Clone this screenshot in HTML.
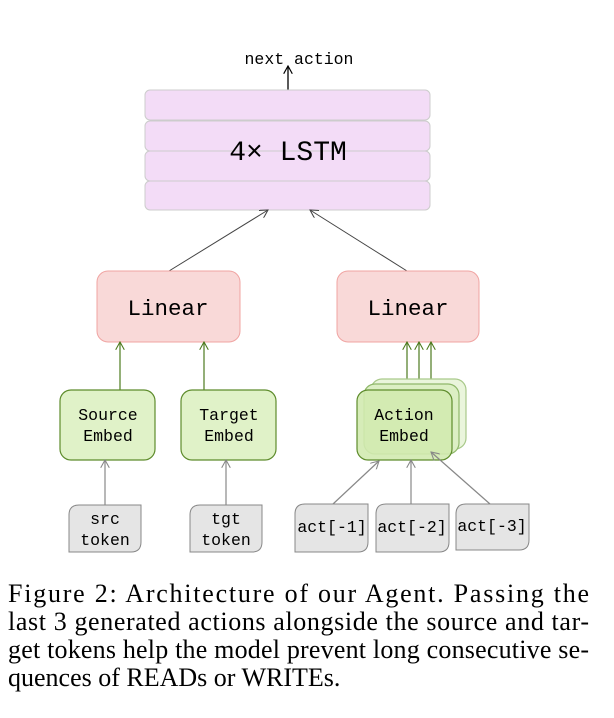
<!DOCTYPE html>
<html><head><style>body{margin:0;background:#fff}svg{display:block}</style></head><body>
<svg width="614" height="718" viewBox="0 0 614 718" xmlns="http://www.w3.org/2000/svg">
<defs>
<marker id="ag" viewBox="0 0 10 10" refX="9" refY="5" markerWidth="9" markerHeight="9" orient="auto" markerUnits="userSpaceOnUse"><path d="M0,0 L9,5 L0,10" fill="none" stroke="#888" stroke-width="1.2"/></marker>
<marker id="ad" viewBox="0 0 10 10" refX="9" refY="5" markerWidth="9" markerHeight="9" orient="auto" markerUnits="userSpaceOnUse"><path d="M0,0 L9,5 L0,10" fill="none" stroke="#444" stroke-width="1.2"/></marker>
<marker id="agr" viewBox="0 0 10 10" refX="9" refY="5" markerWidth="9" markerHeight="9" orient="auto" markerUnits="userSpaceOnUse"><path d="M0,0 L9,5 L0,10" fill="none" stroke="#4d7a1e" stroke-width="1.2"/></marker>
<marker id="ab" viewBox="0 0 10 10" refX="9" refY="5" markerWidth="9" markerHeight="9" orient="auto" markerUnits="userSpaceOnUse"><path d="M0,0 L9,5 L0,10" fill="none" stroke="#000" stroke-width="1.3"/></marker>
</defs>
<g font-family="Liberation Mono, monospace" fill="#000">
<text x="299" y="64" font-size="16.5" text-anchor="middle">next action</text>
<line x1="288" y1="90" x2="288" y2="66" stroke="#000" stroke-width="1.3" marker-end="url(#ab)"/>
<g fill="#f3dcf7" stroke="#ccc" stroke-width="1">
<rect x="145" y="90" width="285" height="30" rx="5"/>
<rect x="145" y="121" width="285" height="30" rx="5"/>
<rect x="145" y="151" width="285" height="30" rx="5"/>
<rect x="145" y="181" width="285" height="29" rx="5"/>
</g>
<text x="288" y="160" font-size="28" text-anchor="middle">4× LSTM</text>
<line x1="169" y1="271" x2="268" y2="210" stroke="#444" marker-end="url(#ad)"/>
<line x1="407" y1="271" x2="310" y2="210" stroke="#444" marker-end="url(#ad)"/>
<g fill="#f9d9d8" stroke="#f0a4a2" stroke-width="1">
<rect x="97" y="271" width="143" height="71" rx="11"/>
<rect x="337" y="271" width="142" height="71" rx="11"/>
</g>
<text x="168" y="315" font-size="22.5" text-anchor="middle">Linear</text>
<text x="408" y="315" font-size="22.5" text-anchor="middle">Linear</text>
<g stroke="#4d7a1e" stroke-width="1.2">
<line x1="120" y1="390" x2="120" y2="342" marker-end="url(#agr)"/>
<line x1="204" y1="390" x2="204" y2="342" marker-end="url(#agr)"/>
<line x1="407" y1="390" x2="407" y2="342" marker-end="url(#agr)"/>
<line x1="419" y1="385" x2="419" y2="342" marker-end="url(#agr)"/>
<line x1="431" y1="380" x2="431" y2="342" marker-end="url(#agr)"/>
</g>
<g stroke="#5e8c2c" stroke-width="1.2">
<rect x="60" y="390" width="95" height="70" rx="11" fill="#e0f2c8"/>
<rect x="181" y="390" width="95" height="70" rx="11" fill="#e0f2c8"/>
<rect x="371" y="379" width="95" height="70" rx="11" fill="#eaf5dc" stroke="#a9c98a"/>
<rect x="364" y="384" width="95" height="70" rx="11" fill="#dcefc4" stroke="#8fb86a"/>
<rect x="357" y="390" width="95" height="70" rx="11" fill="#d2eab0" fill-opacity="0.9"/>
</g>
<g font-size="16.5" text-anchor="middle">
<text x="108" y="420">Source</text><text x="108" y="441">Embed</text>
<text x="229" y="420">Target</text><text x="229" y="441">Embed</text>
<text x="404" y="420">Action</text><text x="404" y="441">Embed</text>
</g>
<g stroke="#888" stroke-width="1.2">
<line x1="105" y1="505" x2="105" y2="460" marker-end="url(#ag)"/>
<line x1="226" y1="505" x2="226" y2="460" marker-end="url(#ag)"/>
<line x1="333" y1="504" x2="379" y2="461" marker-end="url(#ag)"/>
<line x1="411" y1="504" x2="411" y2="460" marker-end="url(#ag)"/>
<line x1="490" y1="504" x2="431" y2="452" marker-end="url(#ag)"/>
</g>
<g fill="#e5e5e5" stroke="#888" stroke-width="1">
<path d="M79,505 H141 V542 Q141,552 131,552 H69 V515 Q69,505 79,505 Z"/>
<path d="M200,505 H262 V542 Q262,552 252,552 H190 V515 Q190,505 200,505 Z"/>
<path d="M305,504 H368 V542 Q368,552 358,552 H295 V514 Q295,504 305,504 Z"/>
<path d="M386,504 H449 V542 Q449,552 439,552 H376 V514 Q376,504 386,504 Z"/>
<path d="M466,504 H529 V540 Q529,550 519,550 H456 V514 Q456,504 466,504 Z"/>
</g>
<g font-size="16.5" text-anchor="middle">
<text x="105" y="524">src</text><text x="105" y="545">token</text>
<text x="226" y="524">tgt</text><text x="226" y="545">token</text>
<text x="332" y="532">act[-1]</text>
<text x="412" y="532">act[-2]</text>
<text x="492" y="531">act[-3]</text>
</g>
</g>
<g font-family="Liberation Serif, serif" font-size="26" fill="#000">
<text x="8" y="602" textLength="581" lengthAdjust="spacing">Figure 2:  Architecture of our Agent.  Passing the</text>
<text x="8" y="630" textLength="581" lengthAdjust="spacing">last 3 generated actions alongside the source and tar-</text>
<text x="8" y="658" textLength="581" lengthAdjust="spacing">get tokens help the model prevent long consecutive se-</text>
<text x="8" y="686">quences of READs or WRITEs.</text>
</g>
</svg>
</body></html>
